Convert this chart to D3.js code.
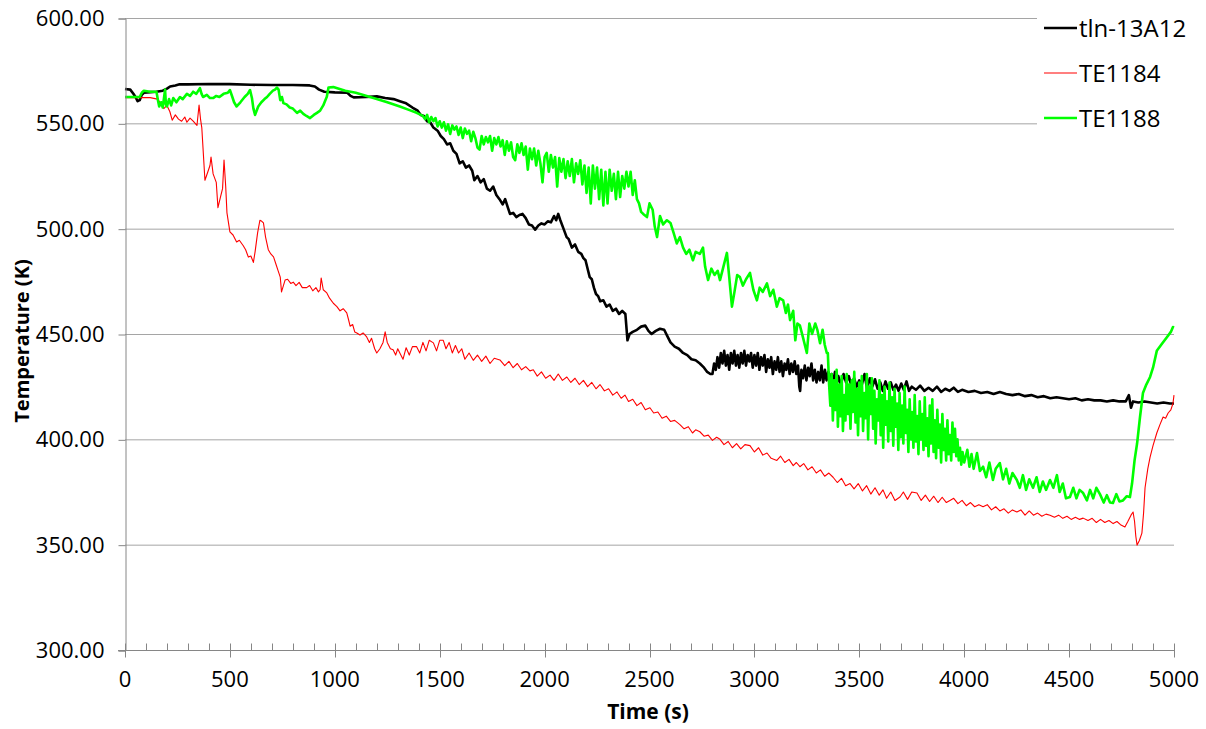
<!DOCTYPE html>
<html><head><meta charset="utf-8">
<script src="https://cdn.jsdelivr.net/npm/d3@7/dist/d3.min.js"></script>
<style>
html,body{margin:0;padding:0;background:#fff;}
svg text{font-family:"Open Sans",Lato,sans-serif;}
</style>
</head><body>
<svg id="chart" width="1206" height="729"></svg>
<script>
// ---------- data ----------
const seriesNames = ["tln-13A12", "TE1184", "TE1188"];
const seriesColors = ["#000000", "#ff0000", "#00ff00"];
const xTicks = [0, 500, 1000, 1500, 2000, 2500, 3000, 3500, 4000, 4500, 5000];
const yTicks = [300, 350, 400, 450, 500, 550, 600];
const xTitle = "Time (s)";
const yTitle = "Temperature (K)";

const tln13A12 = [[0,566.3],[25,566],[40,564],[50,562.5],[60,560.5],[70,561],[80,563.5],[90,564.5],[120,564.8],[150,565],[180,565.5],[200,566.5],[215,567.5],[240,568],[260,568.5],[300,568.5],[400,568.7],[500,568.6],[600,568.3],[700,568.2],[800,568.2],[880,568],[905,567.5],[925,566],[950,565],[1000,564.7],[1060,564.5],[1075,563],[1090,562.3],[1150,562.5],[1200,562.8],[1240,562],[1280,561.5],[1310,560.5],[1340,559.5],[1370,557.5],[1395,556],[1410,554],[1425,553.5],[1440,551],[1455,550.5],[1470,548],[1490,546.5],[1505,544],[1520,542.5],[1535,540],[1550,540.5],[1565,537],[1580,535.5],[1595,531],[1610,532],[1625,529],[1640,530],[1655,527.5],[1665,523],[1680,525],[1695,522],[1710,523.5],[1725,519],[1740,518],[1755,520],[1770,516],[1785,514],[1800,511.5],[1812,514],[1825,510],[1835,507],[1850,507.5],[1865,505.5],[1880,506.5],[1895,507],[1910,505],[1925,502],[1940,501.5],[1955,499.5],[1970,501.5],[1985,502.5],[2000,502],[2015,503.5],[2030,503],[2045,506],[2055,504],[2065,507],[2075,504],[2090,500],[2105,496],[2115,495],[2130,491],[2145,492.5],[2160,489],[2175,488],[2185,486],[2195,485],[2205,481],[2215,477],[2225,476],[2235,472],[2245,469],[2255,468],[2265,465.5],[2280,466],[2295,463],[2310,464],[2325,461],[2340,462],[2355,459.5],[2370,461],[2385,459.5],[2395,447],[2405,450],[2420,451],[2440,452],[2460,453.5],[2480,454],[2495,451.5],[2510,450],[2530,451.5],[2550,452.5],[2570,452],[2585,449],[2600,446],[2620,444],[2640,443],[2660,441],[2680,440],[2700,438],[2720,437.5],[2740,436],[2760,434],[2775,432],[2790,431],
[2800,431],[2808,436],[2816,433],[2824,439],[2832,434],[2840,441],[2848,436],[2856,442],[2864,435],[2872,440],[2880,433],[2888,441],[2896,436],[2904,442],[2912,435],[2920,440],[2928,434],[2936,441],[2944,436],[2952,442],[2960,435],[2968,440],[2976,437],[2984,441],[2992,434],[3000,440],[3008,435],[3016,441],[3024,433],[3032,439],[3040,435],[3048,440],[3056,432],[3064,438],[3072,434],[3080,439],[3088,431],[3096,437],[3104,433],[3112,439],[3120,432],[3128,437],[3136,430],[3144,436],[3152,433],[3160,438],[3168,431],[3176,436],[3184,432],[3192,437],[3200,431],[3208,435],[3214,425],[3218,423],[3224,433],[3232,429],[3240,435],[3248,428],[3256,434],[3264,430],[3272,436],[3280,428],[3288,433],[3296,427],[3304,432],[3312,428],[3320,435],[3328,427],[3336,433],[3344,428],[3352,432],[3360,426],[3368,431],[3376,427],[3384,432],[3392,426],[3400,430],
[3412,426],[3425,431],[3437,427],[3450,430],[3462,425.5],[3475,429],[3487,425],[3500,428],[3512,426],[3525,431],[3537,424],[3550,429],[3562,425],[3575,428.5],[3587,424],[3600,427],[3612,423],[3625,427.5],[3637,424],[3650,427],[3662,423.5],[3675,426],[3687,423],[3700,426.5],[3712,423.5],[3725,427.5],[3737,423],[3750,425],[3770,423.5],[3790,425.5],[3810,423],[3830,424.5],[3850,423],[3870,425],[3890,422.5],[3910,424],[3930,423],[3950,424.5],[3970,422.5],[3990,423.5],[4020,422.5],[4050,423],[4080,422],[4110,422.5],[4140,421.5],[4170,422.5],[4200,421.5],[4230,421],[4260,421.5],[4290,420.5],[4320,421],[4350,420],[4380,420.5],[4410,419.5],[4440,420],[4470,419.5],[4500,419],[4530,419.5],[4560,418.5],[4590,419],[4620,418.5],[4650,418.5],[4680,418],[4710,418.5],[4740,418],[4770,418],[4785,421],[4795,415],[4805,418],[4830,417.5],[4860,418],[4890,417.5],[4920,417],[4950,417.5],[4980,417],[5000,417]];

const te1184 = [[0,562.2],[60,562.2],[120,562.2],[155,561.5],[167,560],[185,557],[200,558.5],[214,555.5],[225,551.5],[240,554],[255,552],[270,551],[285,553],[295,550.5],[310,552.5],[325,551],[343,549],[353,558.7],[360,552],[366,548],[381,523],[395,527],[405,530],[410,534],[420,526],[435,522],[443,510],[455,515],[465,519],[472,532.6],[480,520],[486,507.5],[500,498.5],[515,497],[532,493.7],[545,494.5],[563,492],[575,490],[588,486.5],[600,487],[612,484],[620,489],[632,498],[643,504],[652,503.5],[660,502.7],[670,496],[683,490],[695,488],[708,486.6],[720,483],[730,480],[740,477],[746,470],[755,473],[763,475.6],[775,476],[790,474],[802,474.6],[815,473],[830,474.5],[845,472],[866,472],[880,473],[895,470.5],[910,472],[922,470],[930,471],[935,476.6],[945,471],[962,469.5],[975,467],[993,464.6],[1010,463],[1025,461],[1040,462],[1057,460],[1065,457],[1073,453.7],[1085,454.5],[1095,451],[1105,450.5],[1120,449.5],[1135,450.5],[1152,448.6],[1165,446],[1175,448],[1190,443],[1200,441],[1215,443],[1230,446],[1240,451],[1250,446],[1265,443],[1278,442.5],[1290,440],[1300,443],[1310,441],[1325,438],[1340,443.5],[1355,440],[1370,444],[1390,444],[1405,441],[1420,446],[1435,442],[1450,447],[1470,445.8],[1485,442],[1500,447],[1517,447],[1530,443],[1545,446],[1560,441],[1575,444.5],[1590,441],[1605,443],[1620,438],[1640,441],[1660,437.5],[1680,440],[1700,437],[1720,439.5],[1740,436],[1760,438.5],[1787,437.7],[1810,435],[1830,437],[1850,434],[1870,436],[1890,433],[1910,434.5],[1930,432.5],[1946,433],[1965,430],[1985,432],[2005,429],[2026,430.5],[2045,428],[2065,431],[2085,428],[2106,429.6],[2125,427],[2145,429],[2165,426],[2185,428],[2205,425],[2225,427],[2245,424],[2264,426],[2285,423],[2305,424],[2325,421],[2345,422.5],[2365,419.5],[2383,421],[2400,418],[2420,419],[2440,416],[2460,417.5],[2480,414],[2502,415],[2520,412.5],[2540,413],[2560,410],[2580,411],[2600,408.5],[2620,409],[2645,407],[2665,405],[2685,406],[2705,403],[2720,404.5],[2740,403.6],[2760,401.5],[2780,402],[2800,399.5],[2820,401],[2836,400],[2855,397.5],[2875,399],[2895,396],[2915,398],[2935,395.5],[2955,397.5],[2979,397],[3000,394],[3020,396],[3040,392.5],[3060,393.5],[3080,391],[3107,390],[3125,392],[3145,389],[3165,390.5],[3185,387.5],[3200,389],[3217,387],[3235,388.5],[3255,385.5],[3275,387],[3295,384],[3315,385.5],[3335,382.5],[3355,384],[3375,382],[3395,379.5],[3415,381.5],[3435,378],[3456,379],[3475,376.5],[3495,379],[3515,375.5],[3535,378],[3555,374],[3575,377],[3595,373.5],[3613,376],[3630,372],[3650,375],[3670,371],[3694,372.6],[3710,375],[3730,371.5],[3750,375],[3775,374.5],[3795,371],[3815,373.5],[3835,370.5],[3855,373],[3875,370],[3895,372.5],[3915,370],[3932,371],[3950,372],[3970,369.5],[3990,371],[4010,368.5],[4030,370],[4050,368],[4070,369],[4090,368],[4110,369],[4130,366.5],[4150,368],[4170,366],[4190,367],[4210,365],[4230,366.5],[4251,365.5],[4270,366.5],[4290,364],[4310,366],[4330,364],[4350,365],[4370,363.5],[4390,364.5],[4409,364],[4430,363],[4450,364],[4470,362.5],[4490,363.5],[4510,362],[4530,363],[4550,362],[4567,362.6],[4590,361.5],[4610,362.5],[4630,360.5],[4650,362],[4670,360.5],[4690,361.5],[4710,360],[4728,361],[4745,359.5],[4766,358.4],[4780,361],[4795,364],[4805,365.5],[4812,361],[4818,354],[4824,349.8],[4835,352],[4847,355.5],[4855,365],[4862,377],[4875,386],[4886,391.6],[4900,397],[4918,403],[4933,407],[4948,410.6],[4960,410],[4972,412.5],[4985,414],[4995,417],[5000,421]];

const te1188 = [[0,562.5],[40,562.5],[70,562.5],[80,564.5],[90,565.5],[120,565],[150,565],[157,561],[163,558],[172,560],[180,557.5],[191,566],[195,559],[200,558],[210,561.5],[220,558.5],[230,562],[245,560],[262,562.5],[275,561.5],[295,564],[310,563],[325,565],[340,564],[357,566.7],[365,564],[372,562.5],[390,563.5],[405,562],[420,562],[435,563],[450,562.5],[470,564],[490,564.5],[500,565.8],[510,563],[520,560],[532,558],[550,560],[570,562.5],[585,564],[596,565.8],[605,562],[612,557],[620,554],[635,558],[650,560],[665,561.5],[677,562.5],[690,564],[705,565.5],[715,566],[724,567],[732,566],[740,561],[748,562.5],[755,559.6],[770,559],[785,557.5],[800,557],[820,555],[835,556],[850,554.5],[865,553.5],[882,552.5],[900,554],[915,555],[930,556],[945,558.5],[955,561],[962,562.6],[970,567],[993,567.2],[1050,565.5],[1100,564.5],[1152,563],[1200,561.5],[1250,560],[1310,558],[1350,556.5],[1390,555],
[1420,553.5],[1430,552],[1440,554],[1450,550.5],[1460,553],[1470,551],[1480,552.5],[1490,548.5],[1500,551],[1510,548],[1520,550.5],[1530,546.5],[1540,549.5],[1550,545],[1560,549],[1570,547],[1580,548.5],[1590,544.5],[1600,548],[1610,543],[1620,547.5],[1630,545],[1640,546.5],[1650,541.5],[1660,546],[1670,543],[1680,538.5],[1690,537.5],[1700,544],[1710,540],[1720,543.5],[1730,541],[1740,544],[1750,537],[1760,543],[1770,540],[1780,543.5],[1790,539],[1800,542],[1810,535],[1820,541.5],[1830,537],[1840,541],[1850,534],[1860,532.5],[1870,540],[1880,536],[1890,540.5],[1900,535],[1910,539],[1920,528],[1930,538],[1940,533],[1950,538],[1960,530],[1970,537],[1980,531],[1990,522],[2000,534],[2010,536],[2020,527],[2030,535],[2040,529],[2050,534],[2060,520],[2070,533.5],[2080,527],[2090,533],[2100,524],[2110,532],[2120,525],[2130,533],[2140,522],[2150,531],[2160,526],[2170,532.5],[2180,521],[2190,530],[2200,517],[2210,529],[2220,512],[2230,530],[2240,519],[2250,529],[2260,514],[2270,528],[2280,511],[2290,527],[2300,512],[2310,528],[2320,518],[2330,526],[2340,514],[2350,527],[2360,515],[2370,525],[2380,519],[2390,527],[2400,520],[2410,527],[2420,516],[2430,523],[2440,514],[2450,512],[2460,508],[2470,507],
[2488,505.5],[2500,512],[2515,509],[2525,501],[2536,496],[2550,506],[2565,502],[2583,504],[2600,502.7],[2615,498],[2630,493],[2645,496],[2660,491],[2675,488],[2690,490],[2707,485],[2720,489],[2740,488],[2755,491],[2765,482],[2779,475.6],[2795,481],[2810,478],[2825,480],[2836,475.6],[2850,481],[2869,488.5],[2880,477],[2893,463],[2905,470],[2918,478],[2931,477],[2945,473],[2960,476],[2979,479],[2995,471],[3012,466],[3025,472],[3040,470],[3060,474],[3075,468],[3090,471],[3107,463],[3120,467],[3137,466],[3150,460],[3160,464],[3170,456.6],[3185,461],[3195,447],[3205,455],[3217,454],[3230,449],[3250,441],[3262,455],[3275,450],[3290,455],[3300,452],[3313,445.6],[3325,452],[3335,445],[3345,441],
[3350,441],[3356,426],[3362,416],[3368,431],[3374,409],[3380,428],[3386,414],[3392,433],[3398,406],[3404,426],[3410,411],[3416,430],[3422,404],[3428,421],[3434,409],[3440,431],[3446,412],[3452,426],[3458,405],[3464,428],[3470,413],[3476,432],[3482,408],[3488,424],[3494,402],[3500,427],[3506,411],[3512,430],[3518,404],[3524,422],[3530,410],[3536,431],[3542,400],[3548,425],[3554,412],[3560,429],[3566,405],[3572,423],[3578,398],[3584,419],[3590,409],[3596,428],[3602,402],[3608,421],[3614,396],[3620,425],[3626,407],[3632,418],[3638,399],[3644,427],[3650,404],[3656,420],[3662,397],[3668,424],[3674,406],[3680,417],[3686,395],[3692,422],[3698,401],[3704,416],[3710,398],[3716,425],[3722,403],[3728,414],[3734,394],[3740,419],[3746,400],[3752,413],[3758,396],[3764,421],[3770,399],[3776,411],[3782,393],[3788,418],[3794,400],[3800,412],[3806,395],[3812,420],[3818,397],[3824,410],[3830,392],[3836,416],[3842,398],[3848,419],[3854,394],[3860,409],[3866,391],[3872,414],[3878,396],[3884,407],[3890,389],[3896,412],[3902,395],[3908,405],[3914,390],[3920,409],[3926,393],[3932,402],[3938,390],[3944,408],[3950,394],[3956,405],[3962,392],[3968,400],[3974,390],[3980,396],[3986,388],[3992,394],[4000,389],
[4015,395],[4025,387],[4035,393],[4045,386],[4061,393.5],[4075,385],[4090,387],[4105,382],[4120,389],[4137,380.7],[4150,386],[4170,388.7],[4185,381],[4200,386],[4215,379],[4230,384],[4251,380.7],[4265,377],[4280,383],[4295,376],[4310,381],[4328,377],[4345,382],[4360,375],[4375,380],[4390,376],[4409,380.7],[4425,377],[4442,383],[4455,375],[4470,379],[4485,372],[4504,372.6],[4520,377],[4535,372],[4550,376],[4567,374.5],[4585,371],[4600,376],[4615,372],[4630,377],[4647,374],[4665,370],[4680,373.5],[4695,370],[4709,369.8],[4725,374],[4740,370.5],[4757,371],[4775,373],[4790,372.6],[4800,379],[4812,390],[4824,398],[4838,410.6],[4852,422],[4868,426],[4886,429.6],[4900,434],[4918,442],[4940,445],[4967,448.6],[4985,451],[4995,453.3],[5000,453]];

const seriesData = [tln13A12, te1184, te1188];
const seriesWidths = [2.6, 1.1, 2.6];

// ---------- drawing ----------
const svg = d3.select("#chart");
const x = d3.scaleLinear().domain([0, 5000]).range([125, 1174]);
const y = d3.scaleLinear().domain([300, 600]).range([650, 18]);
const gridColor = "#a5a5a5";
const axisColor = "#868686";

// gridlines
svg.append("g").selectAll("line").data(yTicks.filter(v => v > 300)).join("line")
  .attr("x1", 125).attr("x2", 1174)
  .attr("y1", d => y(d) + 0.5).attr("y2", d => y(d) + 0.5)
  .attr("stroke", gridColor).attr("stroke-width", 1);

// series
const line = d3.line().x(d => x(d[0])).y(d => y(d[1]));
seriesData.forEach((s, i) => {
  svg.append("path").datum(s)
    .attr("d", line)
    .attr("fill", "none")
    .attr("stroke", seriesColors[i])
    .attr("stroke-width", seriesWidths[i])
    .attr("stroke-linejoin", "round");
});

// y axis
const yAxis = d3.axisLeft(y).tickValues(yTicks).tickFormat(d3.format(".2f"))
  .tickSize(7).tickPadding(14);
const gy = svg.append("g").attr("transform", "translate(125.5,0.5)").call(yAxis);
gy.select(".domain").attr("stroke", axisColor);
gy.selectAll(".tick line").attr("stroke", axisColor);
gy.selectAll(".tick text").attr("font-size", 22).attr("fill", "#000")
  .attr("font-family", "'Open Sans', Lato, sans-serif");

// x axis
const gx = svg.append("g").attr("transform", "translate(0,650.5)");
gx.append("line").attr("x1", 118).attr("x2", 1174.5).attr("stroke", axisColor);
const minor = d3.range(0, 5001, 100).filter(v => v % 500 !== 0);
gx.selectAll(".minor").data(minor).join("line").attr("class", "minor")
  .attr("x1", d => Math.round(x(d)) + 0.5).attr("x2", d => Math.round(x(d)) + 0.5)
  .attr("y1", -7).attr("y2", 0).attr("stroke", axisColor);
gx.selectAll(".major").data(xTicks).join("line").attr("class", "major")
  .attr("x1", d => Math.round(x(d)) + 0.5).attr("x2", d => Math.round(x(d)) + 0.5)
  .attr("y1", -7).attr("y2", 7).attr("stroke", axisColor);
gx.selectAll("text").data(xTicks).join("text")
  .attr("x", d => x(d)).attr("y", 36)
  .attr("text-anchor", "middle").attr("font-size", 22).attr("fill", "#000")
  .text(d => d);

// axis titles
svg.append("text").attr("x", 648).attr("y", 719).attr("text-anchor", "middle")
  .attr("font-size", 21).attr("font-weight", "bold").text(xTitle);
svg.append("text").attr("transform", "translate(29,341) rotate(-90)")
  .attr("text-anchor", "middle").attr("font-size", 20).attr("font-weight", "bold").text(yTitle);

// legend
svg.append("rect").attr("x", 1037).attr("y", 4).attr("width", 169).attr("height", 144).attr("fill", "#fff");
const legendY = [28, 73, 118];
seriesNames.forEach((n, i) => {
  svg.append("line").attr("x1", 1044).attr("x2", 1077)
    .attr("y1", legendY[i]).attr("y2", legendY[i])
    .attr("stroke", seriesColors[i]).attr("stroke-width", seriesWidths[i]);
  svg.append("text").attr("x", 1079).attr("y", legendY[i] + 9)
    .attr("font-size", 24).attr("fill", "#000").text(n);
});
</script>
</body></html>
